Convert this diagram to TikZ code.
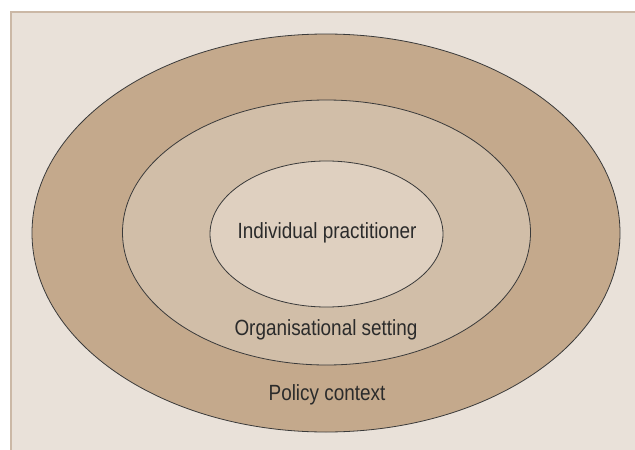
\documentclass[tikz,border=0pt]{standalone}
\usepackage{fontspec}
\setmainfont[FakeStretch=0.86]{Liberation Sans}
\definecolor{bgc}{HTML}{E9E1D9}
\definecolor{framec}{HTML}{CBB8A6}
\definecolor{outerc}{HTML}{C4A98C}
\definecolor{midc}{HTML}{D1BEA8}
\definecolor{innerc}{HTML}{DFD0C0}
\definecolor{linec}{HTML}{3A3A3A}
\definecolor{textc}{HTML}{2B2B2B}
\begin{document}
\begin{tikzpicture}[x=1pt,y=-1pt,
  ring/.style={draw=linec,line width=0.8pt},
  lbl/.style={text=textc,font=\fontsize{22}{26}\selectfont,inner sep=0pt,anchor=center}]
\useasboundingbox (0,0) rectangle (635,450);
\fill[white] (0,0) rectangle (635,450);
\fill[bgc] (10,11) rectangle (635,450);
\draw[framec,line width=2pt] (11,450) -- (11,12) -- (635,12);
\draw[ring,fill=outerc] (326,233) ellipse [x radius=294pt, y radius=199pt];
\draw[ring,fill=midc] (326.5,232.5) ellipse [x radius=204pt, y radius=132.5pt];
\draw[ring,fill=innerc] (326.5,234) ellipse [x radius=116.5pt, y radius=73pt];
\node[lbl] (ind) at (327,233) {\vphantom{Ig}Individual practitioner};
\node[lbl] (org) at (326,330) {\vphantom{Ig}Organisational setting};
\node[lbl] (pol) at (327,395) {\vphantom{Ig}Policy context};
\end{tikzpicture}
\end{document}
